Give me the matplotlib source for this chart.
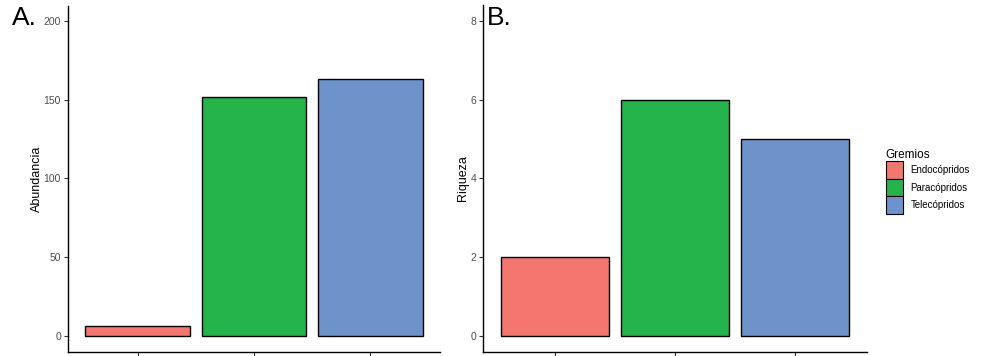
import matplotlib.pyplot as plt
from matplotlib.patches import Patch

plt.rcParams['font.family'] = ['Liberation Sans', 'DejaVu Sans']

# data
gremios = ['Endocópridos', 'Paracópridos', 'Telecópridos']
abundancia = [6, 152, 163]
riqueza = [2, 6, 5]
colores = ['#F4766F', '#25B34B', '#6E93CB']

fig = plt.figure(figsize=(9.85, 3.56), dpi=100)
ax_a = fig.add_axes([68 / 985, 4.5 / 356, 372 / 985, 346 / 356])
ax_b = fig.add_axes([483 / 985, 4.5 / 356, 384 / 985, 346 / 356])

x = range(1, len(gremios) + 1)


def style(ax, yticks, ylabel, ylim):
    ax.set_xlim(0.4, 3.6)
    ax.set_ylim(*ylim)
    ax.set_yticks(yticks)
    ax.set_xticks(list(x))
    ax.set_xticklabels([])
    for s in ['top', 'right']:
        ax.spines[s].set_visible(False)
    for s in ['left', 'bottom']:
        ax.spines[s].set_linewidth(1.0)
    ax.tick_params(length=3, width=0.8, color='#333333',
                   labelsize=7.5, labelcolor='#4D4D4D', pad=2)
    ax.set_ylabel(ylabel, fontsize=9, labelpad=0.5)


ax_a.bar(x, abundancia, width=0.9, color=colores, edgecolor='black', linewidth=1.0)
style(ax_a, [0, 50, 100, 150, 200], 'Abundancia', (-10, 210))

ax_b.bar(x, riqueza, width=0.9, color=colores, edgecolor='black', linewidth=1.0)
style(ax_b, [0, 2, 4, 6, 8], 'Riqueza', (-0.4, 8.4))

fig.text(12 / 985, 1 - 25 / 356, 'A.', fontsize=19, va='baseline')
fig.text(487 / 985, 1 - 25 / 356, 'B.', fontsize=19, va='baseline')

handles = [Patch(facecolor=c, edgecolor='black', linewidth=0.8) for c in colores]
leg = fig.legend(handles, gremios, title='Gremios', loc='upper left',
                 bbox_to_anchor=(877 / 985, 1 - 140 / 356), frameon=False,
                 fontsize=7, title_fontsize=8.5, handlelength=1.75,
                 handleheight=2.45, labelspacing=0.0, handletextpad=0.8)
leg._legend_box.align = 'left'

fig.savefig('out.png', dpi=100)
